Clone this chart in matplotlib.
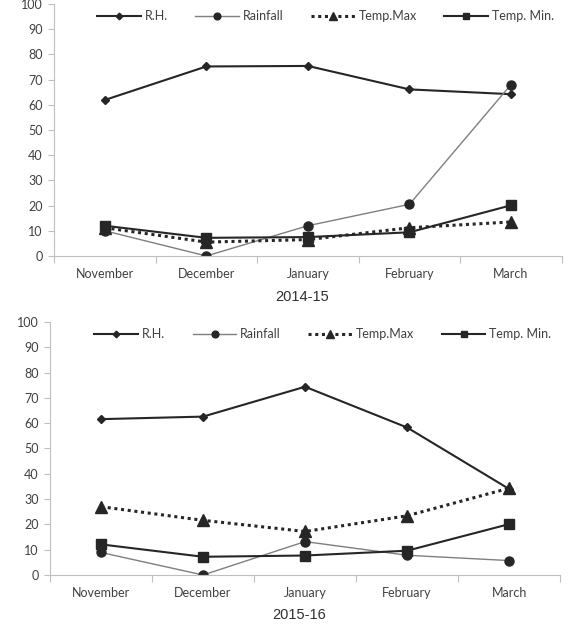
import matplotlib.pyplot as plt
import numpy as np

months = ['November', 'December', 'January', 'February', 'March']

# 2014-15
rh_1415 = [61.9, 75.2, 75.4, 66.1, 64.2]
rain_1415 = [10.0, 0.0, 12.0, 20.5, 68.0]
tmax_1415 = [11.2, 5.5, 6.5, 11.2, 13.5]
tmin_1415 = [12.0, 7.2, 7.5, 9.4, 20.1]

# 2015-16
rh_1516 = [61.6, 62.6, 74.4, 58.3, 34.0]
rain_1516 = [8.9, 0.0, 13.2, 7.8, 5.7]
tmax_1516 = [27.0, 21.6, 17.2, 23.4, 34.3]
tmin_1516 = [12.1, 7.2, 7.7, 9.6, 20.1]

panels = [('2014-15', rh_1415, rain_1415, tmax_1415, tmin_1415),
          ('2015-16', rh_1516, rain_1516, tmax_1516, tmin_1516)]

plt.rcParams['font.family'] = ['Lato', 'DejaVu Sans']
fig = plt.figure(figsize=(5.77, 6.28), dpi=100)

rects = [[0.0936, 0.5924, 0.880, 0.4013],
         [0.0867, 0.0844, 0.884, 0.4029]]
title_y = [1 - 297 / 628, 1 - 615 / 628]

dark = '#262626'
x = np.arange(len(months)) + 0.5

for (title, rh, rain, tmax, tmin), rect, ty in zip(panels, rects, title_y):
    ax = fig.add_axes(rect)
    ax.plot(x, rh, color=dark, lw=1.5, marker='D', ms=4.5, label='R.H.')
    ax.plot(x, rain, color='#7f7f7f', lw=1.0, marker='o', ms=6.5,
            mfc=dark, mec=dark, label='Rainfall')
    ax.plot(x, tmax, color=dark, lw=2.2, ls=(0, (1, 1.2)), marker='^', ms=8.5,
            label='Temp.Max')
    ax.plot(x, tmin, color=dark, lw=1.5, marker='s', ms=6.5, label='Temp. Min.')

    ax.set_xlim(0, 5)
    ax.set_ylim(0, 100)
    ax.set_yticks(range(0, 101, 10))
    ax.set_xticks(range(0, 6))
    ax.set_xticklabels([])
    ax.set_xticks(x, minor=True)
    ax.set_xticklabels(months, minor=True)
    ax.tick_params(axis='x', which='major', length=5, color='#bfbfbf')
    ax.tick_params(axis='x', which='minor', length=0, pad=9,
                   labelsize=9, labelcolor='#404040')
    ax.tick_params(axis='y', length=4, color='#bfbfbf', labelsize=9,
                   labelcolor='#404040', pad=4)
    for s in ['top', 'right']:
        ax.spines[s].set_visible(False)
    for s in ['left', 'bottom']:
        ax.spines[s].set_color('#bfbfbf')

    ax.legend(loc='upper center', bbox_to_anchor=(0.535, 1.02), ncol=4,
              frameon=False, fontsize=9, handlelength=3.5, columnspacing=2.2,
              handletextpad=0.3, labelcolor='#404040', markerscale=0.75)
    fig.text(rect[0] + rect[2] / 2 - 0.01, ty, title, ha='center', va='center',
             fontsize=10.5, color='#303030', family='Liberation Sans')

fig.savefig('out.png', dpi=100)
